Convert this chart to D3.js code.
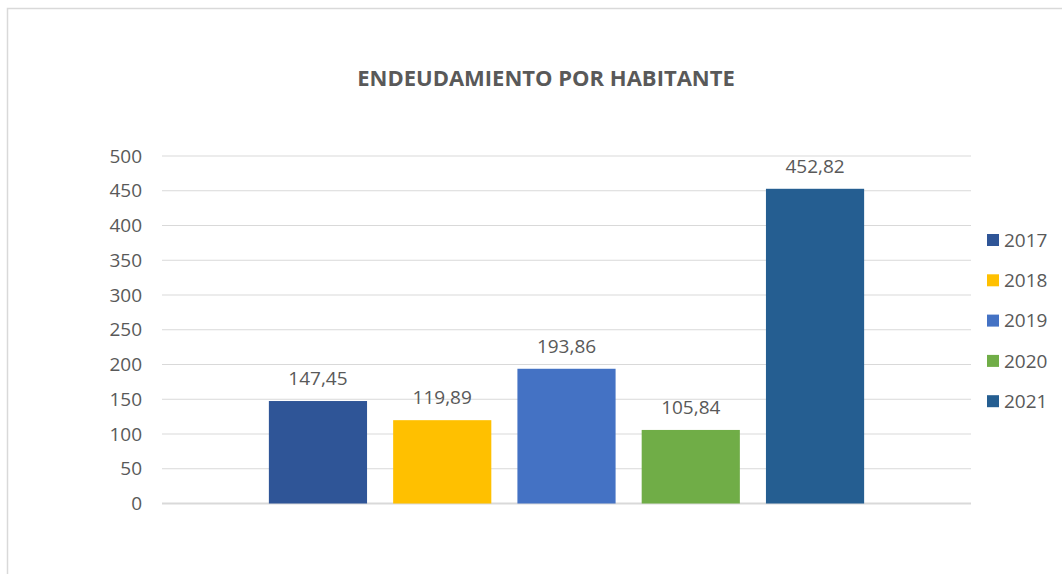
<!DOCTYPE html>
<html>
<head>
<meta charset="utf-8">
<script src="https://cdn.jsdelivr.net/npm/d3@7"></script>
<style>
  html, body { margin: 0; padding: 0; background: #fff; }
  svg { display: block; font-family: "Open Sans", sans-serif; }
</style>
</head>
<body>
<svg id="svg"></svg>
<script>
// datos del grafico
var years = ["2017", "2018", "2019", "2020", "2021"];
var values = [147.45, 119.89, 193.86, 105.84, 452.82];
var colors = ["#2F5597", "#FFC000", "#4472C4", "#70AD47", "#255E91"];
var yTicks = [0, 50, 100, 150, 200, 250, 300, 350, 400, 450, 500];
var title = "ENDEUDAMIENTO POR HABITANTE";

var W = 1062, H = 574;
var margin = {top: 156, left: 162, right: 91, bottom: 70};
var width = 971 - margin.left;
var height = 503.5 - margin.top;
var textColor = "#595959";

var svg = d3.select("#svg").attr("width", W).attr("height", H);

// borde del area del grafico
svg.append("rect")
    .attr("x", 7.5).attr("y", 8.5)
    .attr("width", W + 20).attr("height", H + 20)
    .attr("fill", "#fff")
    .attr("stroke", "#d9d9d9")
    .attr("stroke-width", 1.5);

svg.append("text")
    .attr("x", 546).attr("y", 86)
    .attr("text-anchor", "middle")
    .attr("font-size", 22)
    .attr("font-weight", "bold")
    .attr("fill", textColor)
    .text(title);

var container = svg.append("g").attr("transform", `translate(${margin.left}, ${margin.top})`);

var xScale = d3.scaleBand().domain(years).range([0, width]).paddingInner(0.21).paddingOuter(0.86);
var yScale = d3.scaleLinear().domain([0, 500]).range([height, 0]);

// lineas de cuadricula
container.selectAll("line.grid")
    .data(yTicks)
    .join("line")
    .attr("class", "grid")
    .attr("x1", 0).attr("x2", width)
    .attr("y1", d => yScale(d)).attr("y2", d => yScale(d))
    .attr("stroke", "#d9d9d9")
    .attr("stroke-width", d => d == 0 ? 2 : 1.2);

var yAxis = container.append("g")
    .call(d3.axisLeft(yScale).tickValues(yTicks).tickSize(0).tickPadding(20));
yAxis.select(".domain").remove();
yAxis.selectAll("text")
    .attr("font-family", "Open Sans, sans-serif")
    .attr("font-size", 19)
    .attr("fill", textColor);

container.selectAll("rect.bar")
    .data(values)
    .join("rect")
    .attr("class", "bar")
    .attr("x", (d, i) => xScale(years[i]))
    .attr("width", xScale.bandwidth())
    .attr("y", d => yScale(d))
    .attr("height", d => height - yScale(d))
    .attr("fill", (d, i) => colors[i]);

container.selectAll("text.lbl")
    .data(values)
    .join("text")
    .attr("class", "lbl")
    .attr("x", (d, i) => xScale(years[i]) + xScale.bandwidth() / 2)
    .attr("y", d => yScale(d) - 16)
    .attr("text-anchor", "middle")
    .attr("font-size", 19)
    .attr("fill", textColor)
    .text(d => d3.format(".2f")(d).replace(".", ","));

// leyenda
var legend = svg.append("g").attr("transform", "translate(987, 240)");
var items = legend.selectAll("g")
    .data(years)
    .join("g")
    .attr("transform", (d, i) => `translate(0, ${i * 40.3})`);
items.append("rect")
    .attr("x", 0).attr("y", -6)
    .attr("width", 12).attr("height", 12)
    .attr("fill", (d, i) => colors[i]);
items.append("text")
    .attr("x", 17).attr("y", 0)
    .attr("dy", "0.35em")
    .attr("font-size", 19)
    .attr("fill", textColor)
    .text(d => d);
</script>
</body>
</html>
